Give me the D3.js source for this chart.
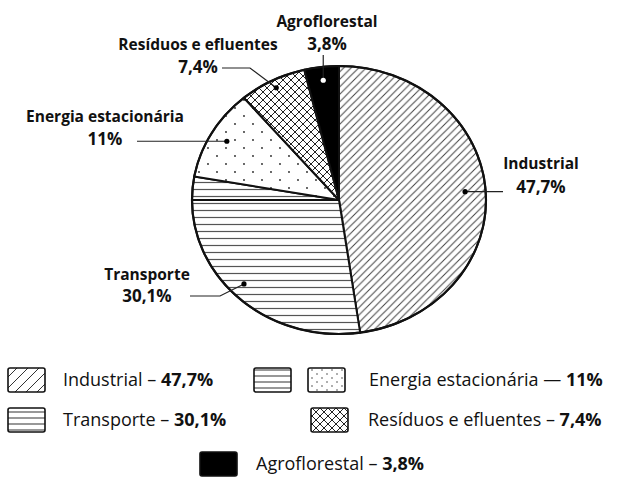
<!DOCTYPE html>
<html>
<head>
<meta charset="utf-8">
<script src="https://cdn.jsdelivr.net/npm/d3@7"></script>
<style>
  html, body { margin: 0; padding: 0; background: #fff; }
  svg { display: block; font-family: "Open Sans", "Noto Sans", sans-serif; }
</style>
</head>
<body>
<svg id="chart" width="622" height="477"></svg>
<script>
// ---- data ----
const categories = ["Industrial", "Transporte", "Energia estacionária", "Resíduos e efluentes", "Agroflorestal"];
const values = [47.7, 30.1, 11, 7.4, 3.8];
const valueLabels = ["47,7%", "30,1%", "11%", "7,4%", "3,8%"];
const patterns = ["diag", "hlines", "dots", "cross", "solid"];
// the Transporte wedge is drawn in two parts separated by a divider line (as in the original)
const transporteParts = [27.3, 2.8];
const legendDashes = [" – ", " – ", " — ", " – ", " – "];

// ---- layout ----
const W = 622, H = 477;
const cx = 339, cy = 200, rx = 147, ry = 134;
const sy = ry / rx;

const svg = d3.select("#chart");
const defs = svg.append("defs");

function makePattern(id, size, draw, extraTransform) {
  const p = defs.append("pattern")
    .attr("id", id)
    .attr("patternUnits", "userSpaceOnUse")
    .attr("width", size[0]).attr("height", size[1]);
  if (extraTransform) p.attr("patternTransform", extraTransform);
  p.append("rect").attr("width", size[0]).attr("height", size[1]).attr("fill", "#fff");
  draw(p);
  return p;
}
const comp = `scale(1,${1 / sy})`;
function diagDraw(p, s, col, w) {
  p.append("path").attr("d", `M0,${s} L${s},0 M${-s/2},${s/2} L${s/2},${-s/2} M${s/2},${s*1.5} L${s*1.5},${s/2}`)
    .attr("stroke", col).attr("stroke-width", w);
}
makePattern("pie-diag", [7.5, 7.5], p => diagDraw(p, 7.5, "#444", 1), comp);
makePattern("pie-hlines", [8, 7], p => p.append("line").attr("x1", 0).attr("x2", 8).attr("y1", 3.5).attr("y2", 3.5)
  .attr("stroke", "#555").attr("stroke-width", 1.2), comp);
makePattern("pie-dots", [18, 16], p => {
  p.append("circle").attr("cx", 4).attr("cy", 4).attr("r", 0.9).attr("fill", "#222");
  p.append("circle").attr("cx", 13).attr("cy", 12).attr("r", 0.9).attr("fill", "#222");
}, comp);
makePattern("pie-cross", [8, 8], p => {
  p.append("path").attr("d", "M0,0 L8,8 M0,8 L8,0").attr("stroke", "#222").attr("stroke-width", 1);
}, comp);

makePattern("lg-diag", [11, 11], p => diagDraw(p, 11, "#333", 1));
makePattern("lg-hlines", [8, 6], p => p.append("line").attr("x1", 0).attr("x2", 8).attr("y1", 3).attr("y2", 3)
  .attr("stroke", "#444").attr("stroke-width", 1.1), "translate(0,1)");
makePattern("lg-dots", [10, 8], p => {
  p.append("circle").attr("cx", 2).attr("cy", 2).attr("r", 0.7).attr("fill", "#222");
  p.append("circle").attr("cx", 7).attr("cy", 6).attr("r", 0.7).attr("fill", "#222");
});
makePattern("lg-cross", [8, 8], p => {
  p.append("path").attr("d", "M0,0 L8,8 M0,8 L8,0").attr("stroke", "#222").attr("stroke-width", 1);
});

const fillFor = (pat, prefix) => pat === "solid" ? "#000" : `url(#${prefix}-${pat})`;

// ---- pie ----
const segments = [];
categories.forEach((c, i) => {
  if (c === "Transporte") {
    transporteParts.forEach((v, k) => segments.push({ cat: c, idx: i, value: v, part: k }));
  } else {
    segments.push({ cat: c, idx: i, value: values[i], part: 0 });
  }
});

const pie = d3.pie().sort(null).value(d => d.value).startAngle(0).endAngle(2 * Math.PI);
const arc = d3.arc().innerRadius(0).outerRadius(rx);
const arcs = pie(segments);

const g = svg.append("g").attr("transform", `translate(${cx},${cy}) scale(1,${sy})`);
g.selectAll("path.slice")
  .data(arcs)
  .join("path")
  .attr("class", "slice")
  .attr("d", arc)
  .attr("fill", d => fillFor(patterns[d.data.idx], "pie"))
  .attr("stroke", "#111")
  .attr("stroke-width", 2)
  .attr("stroke-linejoin", "round")
  .attr("vector-effect", "non-scaling-stroke");
g.append("ellipse").attr("rx", rx).attr("ry", rx).attr("fill", "none")
  .attr("stroke", "#111").attr("stroke-width", 2.2).attr("vector-effect", "non-scaling-stroke");

const catArcs = categories.map((c, i) => {
  const parts = arcs.filter(a => a.data.idx === i);
  return { start: d3.min(parts, p => p.startAngle), end: d3.max(parts, p => p.endAngle) };
});
function pointAt(angle, frac) {
  return [cx + Math.sin(angle) * rx * frac, cy - Math.cos(angle) * ry * frac];
}

// ---- callout labels ----
const callouts = {
  "Industrial":            { tx: 541, ty: 169, gap: 24, line: d => [[d[0], d[1]], [503, d[1]]] },
  "Transporte":            { tx: 147, ty: 280, gap: 22, line: d => [[190, 296], [220, 296], d] },
  "Energia estacionária":  { tx: 105, ty: 122, gap: 23, line: d => [[137, d[1]], d] },
  "Resíduos e efluentes":  { tx: 198, ty: 50,  gap: 23, line: d => [[222, 68], [250, 68], d] },
  "Agroflorestal":         { tx: 327, ty: 27,  gap: 23, line: d => [[d[0], 55], d] }
};
const dotFrac = [0.86, 0.9, 0.88, 0.94, 0.9];

const lab = svg.append("g");
categories.forEach((c, i) => {
  const a = catArcs[i];
  const mid = (a.start + a.end) / 2;
  const dot = pointAt(mid, dotFrac[i]);
  const co = callouts[c];
  lab.append("path")
    .attr("d", d3.line()(co.line(dot)))
    .attr("fill", "none").attr("stroke", "#222").attr("stroke-width", 1.2);
  lab.append("circle").attr("cx", dot[0]).attr("cy", dot[1]).attr("r", 2.6)
    .attr("fill", patterns[i] === "solid" ? "#fff" : "#000");
  const t = lab.append("text").attr("text-anchor", "middle")
    .attr("font-weight", 700).attr("font-size", 15.5).attr("fill", "#111");
  t.append("tspan").attr("x", co.tx).attr("y", co.ty).text(c);
  t.append("tspan").attr("x", co.tx).attr("y", co.ty + co.gap).attr("font-size", 17).text(valueLabels[i]);
});

// ---- legend ----
const legendItems = [
  { i: 0, y: 368, sw: [8],        tx: 63 },
  { i: 2, y: 368, sw: [254, 308], tx: 369 },
  { i: 1, y: 408, sw: [8],        tx: 63 },
  { i: 3, y: 408, sw: [311],      tx: 368 },
  { i: 4, y: 452, sw: [200],      tx: 256 }
];
const lg = svg.append("g");
legendItems.forEach(item => {
  item.sw.forEach((sx, k) => {
    const pat = item.sw.length > 1 && k === 0 ? "hlines" : patterns[item.i];
    lg.append("rect").attr("x", sx).attr("y", item.y).attr("width", 37).attr("height", 24)
      .attr("rx", 2)
      .attr("fill", fillFor(pat, "lg"))
      .attr("stroke", "#111").attr("stroke-width", 1.6);
  });
  const t = lg.append("text").attr("x", item.tx).attr("y", item.y + 18)
    .attr("font-size", 18).attr("fill", "#111");
  t.append("tspan").text(categories[item.i] + legendDashes[item.i]);
  t.append("tspan").attr("font-weight", 700).text(valueLabels[item.i]);
});
</script>
</body>
</html>
